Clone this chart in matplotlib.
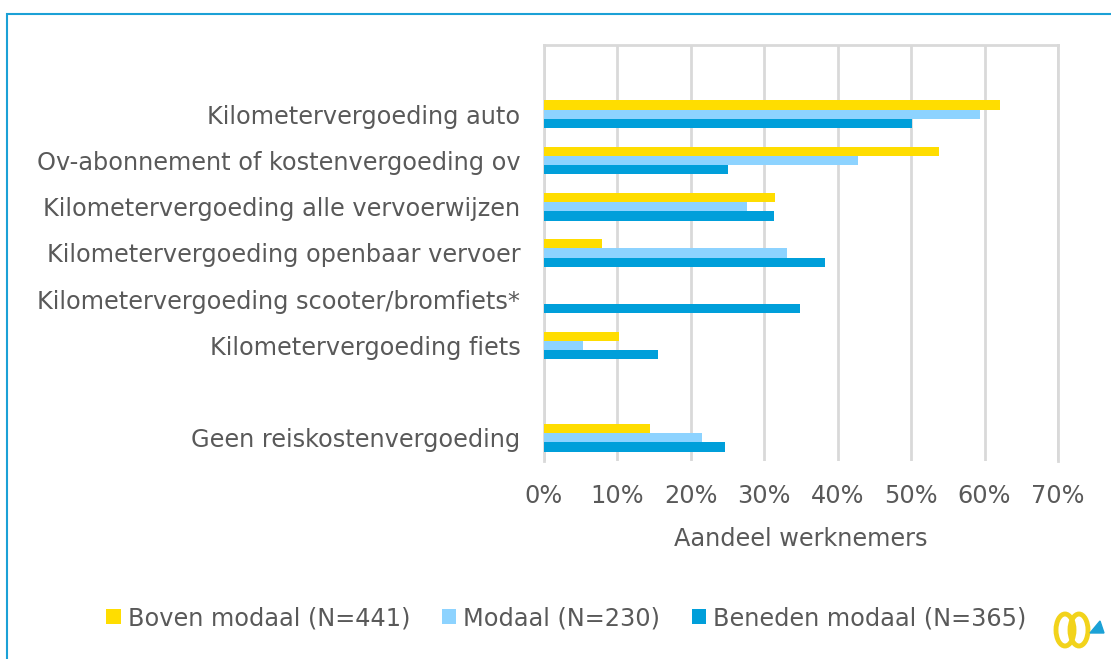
import matplotlib.pyplot as plt
import matplotlib.patches as mpatches
import numpy as np

# Data (share of employees, %)
categories = [
    "",
    "Kilometervergoeding auto",
    "Ov-abonnement of kostenvergoeding ov",
    "Kilometervergoeding alle vervoerwijzen",
    "Kilometervergoeding openbaar vervoer",
    "Kilometervergoeding scooter/bromfiets*",
    "Kilometervergoeding fiets",
    "",
    "Geen reiskostenvergoeding",
]
boven = [0, 62.1, 53.8, 31.5, 7.9, 0, 10.2, 0, 14.5]
modaal = [0, 59.4, 42.8, 27.6, 33.1, 0, 5.3, 0, 21.5]
beneden = [0, 50.1, 25.1, 31.3, 38.3, 34.8, 15.5, 0, 24.7]
series_labels = ["Boven modaal (N=441)", "Modaal (N=230)", "Beneden modaal (N=365)"]
colors = ["#FFDD00", "#8DD3FF", "#009FDA"]
xticks = [0, 10, 20, 30, 40, 50, 60, 70]

text_col = "#595959"
grid_col = "#D9D9D9"

plt.rcParams['font.family'] = ['DejaVu Sans']

fig = plt.figure(figsize=(11.11, 6.59), dpi=100)
ax = fig.add_axes([0.4896, 0.3005, 0.4627, 0.6312])

y = np.arange(len(categories))
h = 0.2
for i, (vals, lab, col) in enumerate(zip([boven, modaal, beneden], series_labels, colors)):
    ax.barh(y + (i - 1) * h, vals, height=h, color=col, label=lab, zorder=3)

ax.set_ylim(len(categories) - 0.5, -0.5)
ax.set_xlim(0, 70)
ax.set_yticks(y)
ax.set_yticklabels(categories, fontsize=17.3, color=text_col)
ax.set_xticks(xticks)
ax.set_xticklabels([f"{t}%" for t in xticks], fontsize=17.3, color=text_col)
ax.tick_params(length=0)
ax.tick_params(axis='x', pad=16.5)
ax.tick_params(axis='y', pad=17)
ax.xaxis.grid(True, color=grid_col, linewidth=2, zorder=0)
for s in ax.spines.values():
    s.set_color(grid_col)
    s.set_linewidth(2)
ax.spines['bottom'].set_visible(False)
ax.set_xlabel("Aandeel werknemers", fontsize=17.3, color=text_col, labelpad=14)

fig.legend(loc='center', bbox_to_anchor=(0.51, 0.062), ncol=3, frameon=False,
           fontsize=17.3, handlelength=0.6, handleheight=0.6, handletextpad=0.3,
           columnspacing=1.3, labelcolor=text_col)

# blue frame around the chart
fig.patches.append(mpatches.Rectangle((7 / 1111, -0.05), 1.2, 1 - 14 / 659 + 0.05,
                                      transform=fig.transFigure, fill=False,
                                      edgecolor="#1BA1D6", linewidth=1.5))

# small logo bottom right
for cx in (1065, 1079):
    fig.patches.append(mpatches.Ellipse((cx / 1111, 1 - 630 / 659), 18 / 1111, 32 / 659,
                                        transform=fig.transFigure, fill=False,
                                        edgecolor="#F2D31B", linewidth=3.5))
fig.patches.append(mpatches.Polygon([(1090 / 1111, 1 - 633 / 659), (1104 / 1111, 1 - 633 / 659),
                                     (1100 / 1111, 1 - 621 / 659)],
                                    transform=fig.transFigure, color="#1BA1D6"))

fig.savefig("out.png", dpi=100)
